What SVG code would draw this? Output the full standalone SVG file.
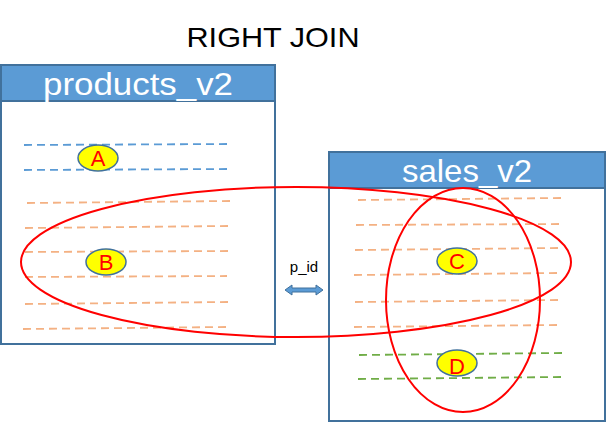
<svg xmlns="http://www.w3.org/2000/svg" width="606" height="423" viewBox="0 0 606 423">
<style>
.box{fill:#fff;stroke:#41719c;stroke-width:2}
.hdr{fill:#5b9bd5;stroke:#41719c;stroke-width:2}
.ht{fill:#fff;font-family:"Liberation Sans",Arial,sans-serif;font-size:32px;text-anchor:middle}
.bl{stroke:#5b9bd5;stroke-width:1.8;stroke-dasharray:8,5;fill:none}
.or{stroke:#f4b183;stroke-width:1.8;stroke-dasharray:8,5;fill:none}
.gr{stroke:#70ad47;stroke-width:1.8;stroke-dasharray:8,5;fill:none}
.lab{fill:#ffff00;stroke:#41719c;stroke-width:1.5}
.lt{fill:#ff0000;font-family:"Liberation Sans",Arial,sans-serif;font-size:22px;text-anchor:middle}
.ring{fill:none;stroke:#ff0000;stroke-width:2}
</style>
<text x="273" y="47" font-family="'Liberation Sans',Arial,sans-serif" font-size="28" text-anchor="middle" textLength="173" lengthAdjust="spacingAndGlyphs" fill="#000">RIGHT JOIN</text>
<g id="products_v2">
<rect class="box" x="1" y="65" width="274" height="279"/>
<rect class="hdr" x="1" y="65" width="274" height="36"/>
<text class="ht" x="138" y="95" textLength="190" lengthAdjust="spacingAndGlyphs">products_v2</text>
<path class="bl" d="M24 145 L228 144 M24 170 L228 169"/>
<path class="or" d="M27 203 L231 201 M25 228 L229 226 M25 252 L229 251 M25 277 L227 276 M25 304 L229 302 M23 329 L227 327"/>
</g>
<g id="sales_v2">
<rect class="box" x="329" y="152" width="276" height="269"/>
<rect class="hdr" x="329" y="152" width="276" height="36"/>
<text class="ht" x="467" y="182" textLength="130" lengthAdjust="spacingAndGlyphs">sales_v2</text>
<path class="or" d="M358 200 L562 198 M356 225 L560 224 M355 250 L560 248 M354 275 L558 273 M355 302 L559 300 M354 327 L558 325"/>
<path class="gr" d="M359 355 L563 353 M358 379 L562 377"/>
</g>
<g id="A"><ellipse class="lab" cx="98" cy="158" rx="20" ry="13"/><text class="lt" x="98" y="166">A</text></g>
<g id="B"><ellipse class="lab" cx="106" cy="262" rx="20" ry="13"/><text class="lt" x="106" y="270">B</text></g>
<g id="C"><ellipse class="lab" cx="457" cy="261" rx="20" ry="13"/><text class="lt" x="457" y="269">C</text></g>
<g id="D"><ellipse class="lab" cx="457" cy="363" rx="20" ry="13"/><text class="lt" x="457" y="374" font-size="28">D</text></g>
<g id="connectors">
<ellipse class="ring" cx="296" cy="262" rx="275" ry="75"/>
<ellipse class="ring" cx="463" cy="300" rx="77" ry="112"/>
<path d="M285 290 L292 285 L292 288 L316 288 L316 285 L323 290 L316 295 L316 292 L292 292 L292 295 Z" fill="#5b9bd5" stroke="#41719c" stroke-width="1"/>
<text x="304" y="272" font-family="'Liberation Sans',Arial,sans-serif" font-size="15" text-anchor="middle" fill="#000">p_id</text>
</g>
</svg>
